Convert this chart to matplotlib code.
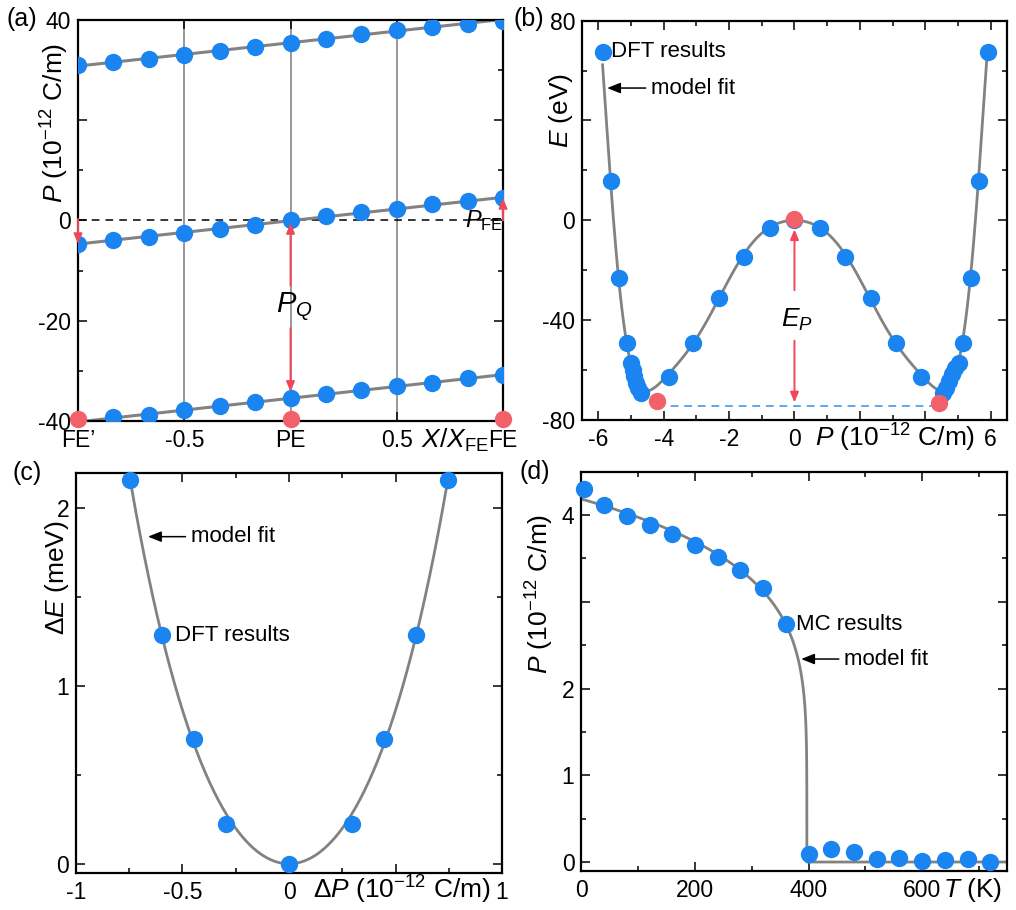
# four-panel figure: polarization / energy landscape and temperature dependence

import matplotlib
matplotlib.use("Agg")
import matplotlib.pyplot as plt
import numpy as np

plt.rcParams['font.family'] = 'Liberation Sans'
plt.rcParams['mathtext.fontset'] = 'custom'
plt.rcParams['mathtext.rm'] = 'Liberation Sans'
plt.rcParams['mathtext.it'] = 'Liberation Sans:italic'
plt.rcParams['axes.linewidth'] = 1.6

blue = '#1a85f0'
red = '#f2606a'
arrow_red = '#f0485a'
gray = '#828282'

# (a) polarization branches along the path FE' -> PE -> FE
x_path = np.linspace(-1, 1, 13)
P_mid = [-4.7, -3.9, -3.2, -2.4, -1.6, -0.9, 0.0, 0.8, 1.6, 2.3, 3.2, 3.8, 4.5]
P_top = [31.0, 31.6, 32.2, 33.0, 33.8, 34.6, 35.5, 36.3, 37.2, 38.0, 38.7, 39.3, 39.9]
P_bot = [-40.1, -39.3, -38.8, -37.9, -37.0, -36.3, -35.5, -34.7, -33.8, -33.0, -32.4, -31.5, -30.8]
x_red_a = [-1, 0, 1]
y_red_a = [-39.6, -39.6, -39.6]

# (b) DFT energies vs polarization
P_b = [-5.87, -5.60, -5.38, -5.13, -5.00, -4.95, -4.90, -4.85, -4.78, -4.68,
       -3.85, -3.09, -2.32, -1.53, -0.75, 0.0, 0.79, 1.56, 2.35, 3.12, 3.88,
       4.55, 4.65, 4.73, 4.82, 4.92, 5.04, 5.16, 5.39, 5.65, 5.92]
E_b = [67.5, 15.8, -23.2, -49.3, -57.3, -60.0, -62.5, -65.0, -67.0, -69.0,
       -62.6, -49.3, -31.0, -14.6, -2.9, 0.0, -2.9, -14.6, -31.0, -49.3, -62.6,
       -69.0, -67.0, -64.5, -61.5, -59.0, -57.3, -49.3, -23.2, 15.8, 67.5]
P_red_b = [-4.22, 0.0, 4.42]
E_red_b = [-72.6, 0.5, -73.4]

# (c) energy change vs small polarization change
dP_c = [-0.745, -0.594, -0.448, -0.296, 0.0, 0.296, 0.448, 0.597, 0.747]
dE_c = [2.157, 1.285, 0.704, 0.225, 0.0, 0.225, 0.704, 1.285, 2.157]

# (d) Monte Carlo polarization vs temperature
T_d = [5, 40, 80, 120, 160, 200, 240, 280, 320, 360,
       400, 440, 480, 520, 560, 600, 640, 680, 720]
P_d = [4.30, 4.11, 3.99, 3.88, 3.78, 3.66, 3.52, 3.37, 3.16, 2.74,
       0.09, 0.15, 0.11, 0.03, 0.05, 0.01, 0.02, 0.03, 0.00]
Tc = 397.0

fig = plt.figure(figsize=(10.16, 9.10), dpi=100)
axa = fig.add_axes([0.0768, 0.5374, 0.4183, 0.4406])
axb = fig.add_axes([0.5728, 0.5385, 0.4183, 0.4388])
axc = fig.add_axes([0.0748, 0.0410, 0.4193, 0.4396])
axd = fig.add_axes([0.5722, 0.0432, 0.4193, 0.4385])

for ax in (axa, axb, axc, axd):
    ax.tick_params(which='both', direction='in', top=True, right=True,
                   labelsize=16.5, width=1.1, pad=5)
    ax.tick_params(which='major', length=6.5)
    ax.tick_params(which='minor', length=3.5)
    ax.tick_params(axis='x', pad=6)

mk = dict(marker='o', ls='none', ms=12.5, color=blue, mew=0)
lab = 19
xl_y = -0.066  # baseline of in-line x labels, axes coords

fit_arrow = dict(arrowstyle='-|>,head_length=0.5,head_width=0.2',
                 color='k', lw=1.1, shrinkA=2, shrinkB=0)

# ---- (a)
for v in (-0.5, 0, 0.5):
    axa.axvline(v, color='#909090', lw=1.3, zorder=1)
axa.axhline(0, color='k', lw=1.1, ls=(0, (5, 4)), zorder=1)
for ys in (P_top, P_mid, P_bot):
    c = np.polyfit(x_path, ys, 1)
    xx = np.linspace(-1, 1, 50)
    axa.plot(xx, np.polyval(c, xx), color=gray, lw=2.2, zorder=2)
    axa.plot(x_path, ys, zorder=3, **mk)
axa.plot(x_red_a, y_red_a, marker='o', ls='none', ms=12.5, color=red, mew=0,
         clip_on=False, zorder=5)
arw = dict(arrowstyle='-|>,head_length=0.6,head_width=0.25', color=arrow_red, lw=1.4,
           shrinkA=0, shrinkB=0)
axa.annotate('', xy=(-1, P_mid[0]), xytext=(-1, 0.3), arrowprops=arw, zorder=6)
axa.annotate('', xy=(1, P_mid[-1]), xytext=(1, 0), arrowprops=arw, zorder=6)
axa.annotate('', xy=(0, -0.5), xytext=(0, -13), arrowprops=arw, zorder=6)
axa.annotate('', xy=(0, -34.2), xytext=(0, -21.5), arrowprops=arw, zorder=6)
axa.text(0.02, -17.3, r'$P_Q$', fontsize=21, ha='center', va='center')
axa.text(0.82, -1.4, r'$P_{\mathregular{FE}}$', fontsize=17, ha='left', va='baseline')
axa.set_xlim(-1, 1)
axa.set_ylim(-40, 40)
axa.set_xticks([-1, -0.5, 0, 0.5, 1])
axa.set_xticklabels(['FE\u2019', '-0.5', 'PE', '0.5', 'FE'])
axa.set_yticks([-40, -20, 0, 20, 40])
axa.set_yticklabels(['-40', '-20', '0', '', '40'])
axa.set_yticks(np.arange(-40, 41, 10), minor=True)
axa.text(0.806, xl_y, r'$X/X_{\mathregular{FE}}$', transform=axa.transAxes,
         fontsize=lab, ha='left', va='baseline')
axa.text(-0.054, 0.743, r'$P$ (10$^{-12}$ C/m)', transform=axa.transAxes,
         fontsize=lab, rotation=90, ha='center', va='center')

# ---- (b)
Pb = np.array(P_b)
Eb = np.array(E_b)
A = np.vstack([Pb**2, Pb**4, Pb**6, Pb**8, Pb**10, Pb**12]).T
coef = np.linalg.lstsq(A, Eb, rcond=None)[0]
pp = np.linspace(-5.87, 5.90, 600)
ee = np.vstack([pp**2, pp**4, pp**6, pp**8, pp**10, pp**12]).T @ coef
axb.plot(pp, ee, color=gray, lw=2.0, zorder=2)
axb.plot(P_b, E_b, zorder=3, **mk)
axb.plot([P_red_b[0], P_red_b[2]], [-74.6, -74.6], color='#5aa9f5', lw=1.4,
         ls=(0, (4, 3)), zorder=1)
axb.plot(P_red_b, E_red_b, marker='o', ls='none', ms=12.5, color=red, mew=0, zorder=5)
axb.annotate('', xy=(0, -3.6), xytext=(0, -28), arrowprops=arw, zorder=6)
axb.annotate('', xy=(0, -73.0), xytext=(0, -48.2), arrowprops=arw, zorder=6)
axb.text(0.08, -40, r'$E_P$', fontsize=19, ha='center', va='center')
axb.text(-5.62, 67.5, 'DFT results', fontsize=16, ha='left', va='center')
axb.annotate('model fit', xy=(-5.73, 53.0), xytext=(-4.38, 53.0), fontsize=16,
             ha='left', va='center', arrowprops=fit_arrow)
axb.set_xlim(-6.5, 6.5)
axb.set_ylim(-80, 80)
axb.set_xticks([-6, -4, -2, 0, 2, 4, 6])
axb.set_xticklabels(['-6', '-4', '-2', '0', '', '', '6'])
axb.set_xticks(np.arange(-6, 7, 1), minor=True)
axb.set_yticks([-80, -40, 0, 40, 80])
axb.set_yticklabels(['-80', '-40', '0', '', '80'])
axb.set_yticks(np.arange(-80, 81, 20), minor=True)
axb.text(0.549, xl_y, r'$P$ (10$^{-12}$ C/m)', transform=axb.transAxes,
         fontsize=lab, ha='left', va='baseline')
axb.text(-0.049, 0.776, r'$E$ (eV)', transform=axb.transAxes,
         fontsize=lab, rotation=90, ha='center', va='center')

# ---- (c)
Pc = np.array(dP_c)
Ec = np.array(dE_c)
Ac = np.vstack([Pc**2, Pc**4]).T
cc = np.linalg.lstsq(Ac, Ec, rcond=None)[0]
pc = np.linspace(-0.76, 0.76, 300)
axc.plot(pc, cc[0] * pc**2 + cc[1] * pc**4, color=gray, lw=2.0, zorder=2)
axc.plot(dP_c, dE_c, zorder=3, clip_on=False, **mk)
axc.text(-0.535, 1.285, 'DFT results', fontsize=16, ha='left', va='center')
axc.annotate('model fit', xy=(-0.662, 1.84), xytext=(-0.46, 1.84), fontsize=16,
             ha='left', va='center', arrowprops=fit_arrow)
axc.set_xlim(-1, 1)
axc.set_ylim(-0.05, 2.2)
axc.set_xticks([-1, -0.5, 0, 0.5, 1])
axc.set_xticklabels(['-1', '-0.5', '0', '', '1'])
axc.set_xticks(np.arange(-1, 1.01, 0.25), minor=True)
axc.set_yticks([0, 1, 2])
axc.set_yticks([0.5, 1.5], minor=True)
axc.text(0.556, xl_y, r'$\Delta P$ (10$^{-12}$ C/m)', transform=axc.transAxes,
         fontsize=lab, ha='left', va='baseline')
axc.text(-0.045, 0.737, r'$\Delta E$ (meV)', transform=axc.transAxes,
         fontsize=lab, rotation=90, ha='center', va='center')

# ---- (d) power-law fit P0 (1 - T/Tc)^beta below Tc
Td = np.array(T_d, dtype=float)
Pd = np.array(P_d)
low = Td < Tc
beta, lnP0 = np.polyfit(np.log(1 - Td[low] / Tc), np.log(Pd[low]), 1)
tt = Tc * (1 - np.geomspace(1, 1e-6, 400))
tt = np.concatenate([tt, [Tc, 750]])
pfit = np.where(tt < Tc, np.exp(lnP0) * np.clip(1 - tt / Tc, 0, None) ** beta, 0.0)
axd.plot(tt, pfit, color=gray, lw=2.0, zorder=2)
axd.plot(T_d, P_d, zorder=3, clip_on=False, **mk)
axd.text(378, 2.74, 'MC results', fontsize=16, ha='left', va='center')
axd.annotate('model fit', xy=(387, 2.34), xytext=(463, 2.34), fontsize=16,
             ha='left', va='center', arrowprops=fit_arrow)
axd.set_xlim(0, 750)
axd.set_ylim(-0.1, 4.5)
axd.set_xticks([0, 200, 400, 600])
axd.set_xticks(np.arange(0, 751, 100), minor=True)
axd.set_yticks([0, 1, 2, 3, 4])
axd.set_yticklabels(['0', '1', '2', '', '4'])
axd.set_yticks(np.arange(0, 4.51, 0.5), minor=True)
axd.text(0.849, xl_y, r'$T$ (K)', transform=axd.transAxes,
         fontsize=lab, ha='left', va='baseline')
axd.text(-0.097, 0.693, r'$P$ (10$^{-12}$ C/m)', transform=axd.transAxes,
         fontsize=lab, rotation=90, ha='center', va='center')

# panel letters
for s, x, y in (('(a)', 0.006, 0.992), ('(b)', 0.505, 0.992),
                ('(c)', 0.012, 0.493), ('(d)', 0.511, 0.494)):
    fig.text(x, y, s, fontsize=18, ha='left', va='top')

fig.savefig('out.png', dpi=100)
